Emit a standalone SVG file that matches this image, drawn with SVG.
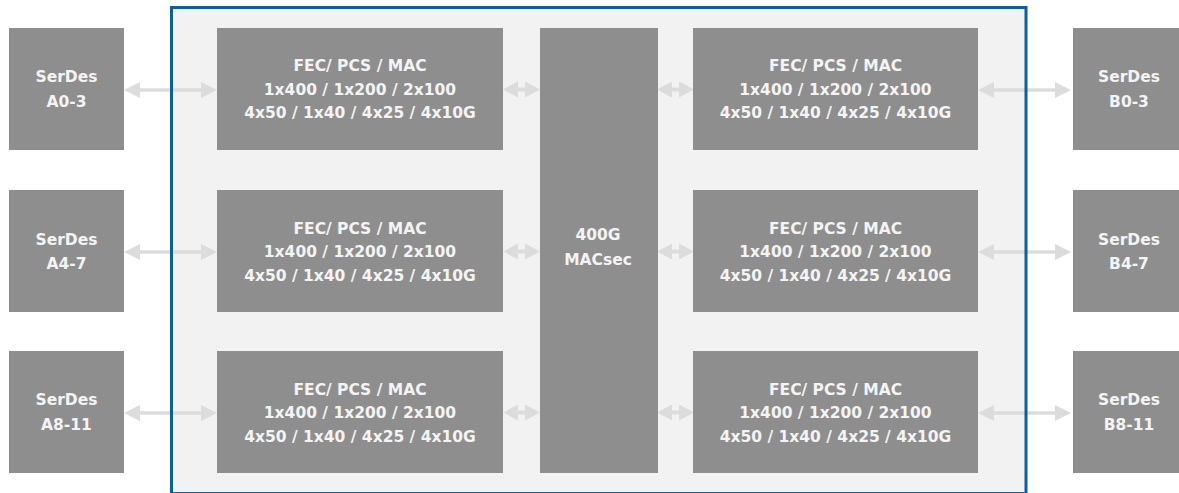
<svg xmlns="http://www.w3.org/2000/svg" width="1179" height="493" viewBox="0 0 1179 493">
<defs>
<style>
.box{fill:#8e8e8e}
.t{fill:#f4f4f4;font-family:"DejaVu Sans","Liberation Sans",sans-serif;font-weight:700;font-size:15.5px;text-anchor:middle}
.ar{fill:#dcdcdc}
</style>
<g id="arrowL"><path d="M0,0 L16,-8 L16,-1.75 L77,-1.75 L77,1.75 L16,1.75 L16,8 Z M93,0 L77,-8 L77,8 Z"/></g>
<g id="arrowS"><path d="M0,0 L15,-8 L15,-2 L22,-2 L22,-8 L37,0 L22,8 L22,2 L15,2 L15,8 Z"/></g>
</defs>
<rect width="1179" height="493" fill="#ffffff"/>
<g id="frame"><rect x="171.5" y="7.5" width="854.5" height="486" fill="#f2f2f2"/></g>
<g id="connectors" class="ar">
<use href="#arrowL" x="124" y="90"/>
<use href="#arrowL" x="124" y="252"/>
<use href="#arrowL" x="124" y="413"/>
<use href="#arrowL" x="978" y="90"/>
<use href="#arrowL" x="978" y="252"/>
<use href="#arrowL" x="978" y="413"/>
<use href="#arrowS" x="503" y="89.5"/>
<use href="#arrowS" x="503" y="251.5"/>
<use href="#arrowS" x="503" y="412.5"/>
<use href="#arrowS" x="657" y="89.5"/>
<use href="#arrowS" x="657" y="251.5"/>
<use href="#arrowS" x="657" y="412.5"/>
</g>
<g id="frame-border"><rect x="171.5" y="7.5" width="854.5" height="486" fill="none" stroke="#0b5f9e" stroke-width="3"/></g>
<g id="serdes-a0"><rect class="box" x="9" y="28" width="115" height="122"/><text class="t" x="66.5" y="82">SerDes</text><text class="t" x="66.5" y="107">A0-3</text></g>
<g id="serdes-a4"><rect class="box" x="9" y="190" width="115" height="122"/><text class="t" x="66.5" y="245">SerDes</text><text class="t" x="66.5" y="269">A4-7</text></g>
<g id="serdes-a8"><rect class="box" x="9" y="351" width="115" height="122"/><text class="t" x="66.5" y="405">SerDes</text><text class="t" x="66.5" y="430">A8-11</text></g>
<g id="serdes-b0"><rect class="box" x="1073" y="28" width="115" height="122"/><text class="t" x="1129" y="82">SerDes</text><text class="t" x="1129" y="107">B0-3</text></g>
<g id="serdes-b4"><rect class="box" x="1073" y="190" width="115" height="122"/><text class="t" x="1129" y="245">SerDes</text><text class="t" x="1129" y="269">B4-7</text></g>
<g id="serdes-b8"><rect class="box" x="1073" y="351" width="115" height="122"/><text class="t" x="1129" y="405">SerDes</text><text class="t" x="1129" y="430">B8-11</text></g>
<g id="fec-a0"><rect class="box" x="217" y="28" width="286" height="122"/><text class="t" x="360" y="71">FEC/ PCS / MAC</text><text class="t" x="360" y="94.5">1x400 / 1x200 / 2x100</text><text class="t" x="360" y="118">4x50 / 1x40 / 4x25 / 4x10G</text></g>
<g id="fec-a4"><rect class="box" x="217" y="190" width="286" height="122"/><text class="t" x="360" y="233.5">FEC/ PCS / MAC</text><text class="t" x="360" y="257">1x400 / 1x200 / 2x100</text><text class="t" x="360" y="280.5">4x50 / 1x40 / 4x25 / 4x10G</text></g>
<g id="fec-a8"><rect class="box" x="217" y="351" width="286" height="122"/><text class="t" x="360" y="394.5">FEC/ PCS / MAC</text><text class="t" x="360" y="418">1x400 / 1x200 / 2x100</text><text class="t" x="360" y="441.5">4x50 / 1x40 / 4x25 / 4x10G</text></g>
<g id="macsec"><rect class="box" x="540" y="28" width="118" height="445"/><text class="t" x="598" y="240">400G</text><text class="t" x="598" y="265">MACsec</text></g>
<g id="fec-b0"><rect class="box" x="693" y="28" width="285" height="122"/><text class="t" x="835.5" y="71">FEC/ PCS / MAC</text><text class="t" x="835.5" y="94.5">1x400 / 1x200 / 2x100</text><text class="t" x="835.5" y="118">4x50 / 1x40 / 4x25 / 4x10G</text></g>
<g id="fec-b4"><rect class="box" x="693" y="190" width="285" height="122"/><text class="t" x="835.5" y="233.5">FEC/ PCS / MAC</text><text class="t" x="835.5" y="257">1x400 / 1x200 / 2x100</text><text class="t" x="835.5" y="280.5">4x50 / 1x40 / 4x25 / 4x10G</text></g>
<g id="fec-b8"><rect class="box" x="693" y="351" width="285" height="122"/><text class="t" x="835.5" y="394.5">FEC/ PCS / MAC</text><text class="t" x="835.5" y="418">1x400 / 1x200 / 2x100</text><text class="t" x="835.5" y="441.5">4x50 / 1x40 / 4x25 / 4x10G</text></g>
</svg>
